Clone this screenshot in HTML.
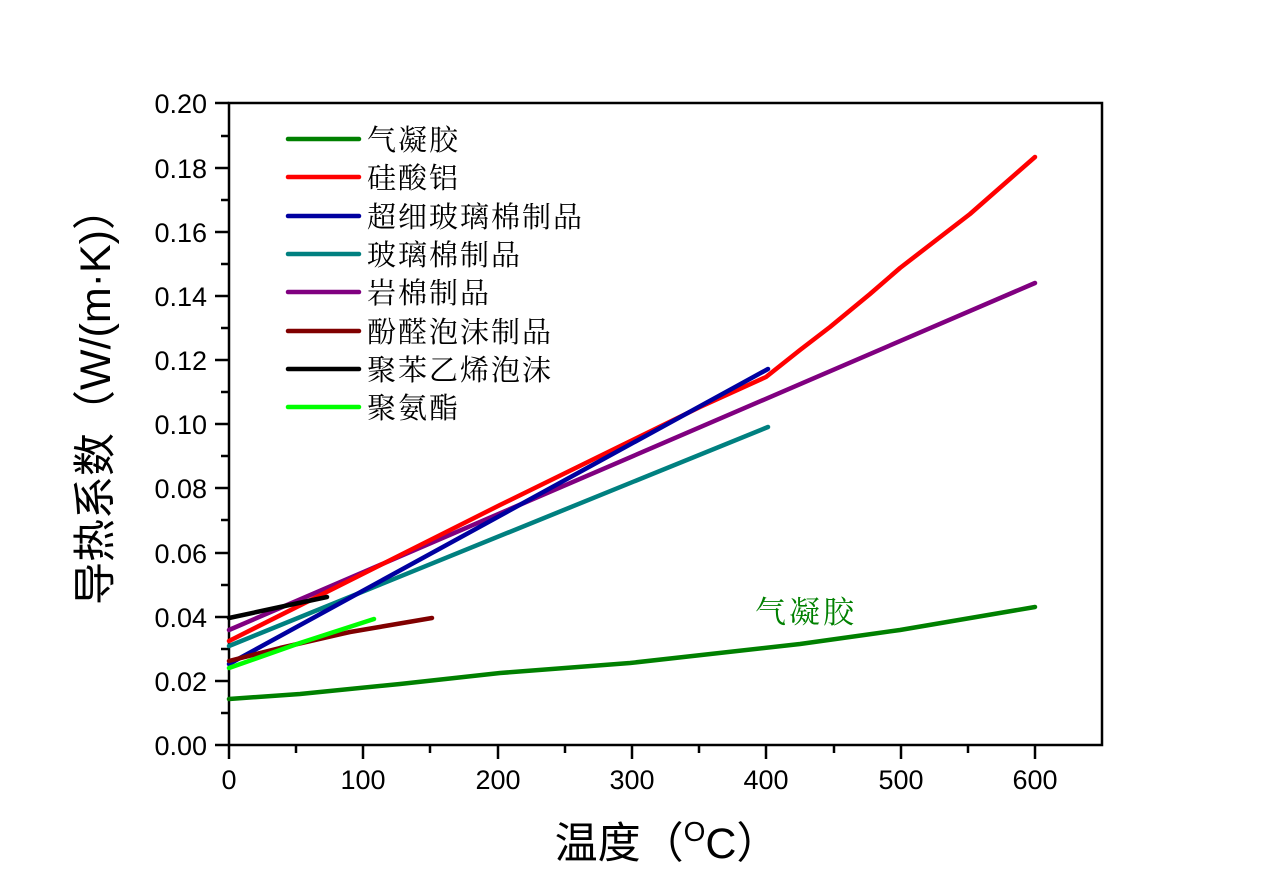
<!DOCTYPE html>
<html><head><meta charset="utf-8"><style>
body{margin:0;background:#fff;}
svg{display:block;}
</style></head><body>
<svg width="1280" height="893" xmlns="http://www.w3.org/2000/svg">
<rect width="1280" height="893" fill="#fff"/>
<g stroke="#000" stroke-width="2.5" fill="none">
<rect x="229" y="103" width="873" height="642"/>
</g>
<g stroke="#000" stroke-width="2.5">
<line x1="215" y1="745" x2="229" y2="745"/><line x1="215" y1="681" x2="229" y2="681"/>
<line x1="215" y1="617" x2="229" y2="617"/><line x1="215" y1="553" x2="229" y2="553"/>
<line x1="215" y1="488" x2="229" y2="488"/><line x1="215" y1="424" x2="229" y2="424"/>
<line x1="215" y1="360" x2="229" y2="360"/><line x1="215" y1="296" x2="229" y2="296"/>
<line x1="215" y1="232" x2="229" y2="232"/><line x1="215" y1="168" x2="229" y2="168"/>
<line x1="215" y1="103" x2="229" y2="103"/>
<line x1="221" y1="713" x2="229" y2="713"/><line x1="221" y1="649" x2="229" y2="649"/>
<line x1="221" y1="585" x2="229" y2="585"/><line x1="221" y1="520" x2="229" y2="520"/>
<line x1="221" y1="456" x2="229" y2="456"/><line x1="221" y1="392" x2="229" y2="392"/>
<line x1="221" y1="328" x2="229" y2="328"/><line x1="221" y1="264" x2="229" y2="264"/>
<line x1="221" y1="200" x2="229" y2="200"/><line x1="221" y1="136" x2="229" y2="136"/>
<line x1="229" y1="745" x2="229" y2="759"/><line x1="363" y1="745" x2="363" y2="759"/>
<line x1="498" y1="745" x2="498" y2="759"/><line x1="632" y1="745" x2="632" y2="759"/>
<line x1="766" y1="745" x2="766" y2="759"/><line x1="901" y1="745" x2="901" y2="759"/>
<line x1="1035" y1="745" x2="1035" y2="759"/>
<line x1="296" y1="745" x2="296" y2="753"/><line x1="430" y1="745" x2="430" y2="753"/>
<line x1="565" y1="745" x2="565" y2="753"/><line x1="699" y1="745" x2="699" y2="753"/>
<line x1="834" y1="745" x2="834" y2="753"/><line x1="968" y1="745" x2="968" y2="753"/>
</g>
<g font-family="Liberation Sans, sans-serif" font-size="27" fill="#000" text-anchor="end">
<text x="207" y="755">0.00</text><text x="207" y="691">0.02</text><text x="207" y="627">0.04</text>
<text x="207" y="563">0.06</text><text x="207" y="498">0.08</text><text x="207" y="434">0.10</text>
<text x="207" y="370">0.12</text><text x="207" y="306">0.14</text><text x="207" y="242">0.16</text>
<text x="207" y="178">0.18</text><text x="207" y="113">0.20</text>
</g>
<g font-family="Liberation Sans, sans-serif" font-size="27" fill="#000" text-anchor="middle">
<text x="229" y="789">0</text><text x="363" y="789">100</text><text x="498" y="789">200</text>
<text x="632" y="789">300</text><text x="766" y="789">400</text><text x="901" y="789">500</text>
<text x="1035" y="789">600</text>
</g>
<text x="667" y="858" text-anchor="middle" font-family="Liberation Sans, 'Noto Sans CJK SC', sans-serif" font-size="43">温度（<tspan font-size="28" dy="-17">O</tspan><tspan dy="17">C）</tspan></text>
<text transform="translate(110,396) rotate(-90)" text-anchor="middle" font-family="Liberation Sans, 'Noto Sans CJK SC', sans-serif" font-size="43">导热系数（W/(m·K)）</text>
<g fill="none" stroke-width="4.5" stroke-linecap="round" stroke-linejoin="round">
<polyline stroke="#008000" points="229,699 300,694 400,684 500,673 630,663 800,644 900,630 1035,607"/>
<polyline stroke="#800080" points="229,630 1035,283"/>
<polyline stroke="#008080" points="229,646 768,427"/>
<polyline stroke="#ff0000" points="229,641 500,505 700,407 766,377 800,350 830,327 870,294 900,268 970,214 1035,157"/>
<polyline stroke="#0000a0" points="229,664 768,369"/>
<polyline stroke="#800000" points="229,661 280,648 350,632 432,618"/>
<polyline stroke="#000000" points="229,618 280,607 327,597"/>
<polyline stroke="#00ff00" points="229,668 300,643 374,619"/>
</g>
<g stroke-width="4.5" stroke-linecap="round">
<line x1="288" y1="139" x2="359" y2="139" stroke="#008000"/>
<line x1="288" y1="177" x2="359" y2="177" stroke="#ff0000"/>
<line x1="288" y1="216" x2="359" y2="216" stroke="#0000a0"/>
<line x1="288" y1="254" x2="359" y2="254" stroke="#008080"/>
<line x1="288" y1="292" x2="359" y2="292" stroke="#800080"/>
<line x1="288" y1="331" x2="359" y2="331" stroke="#800000"/>
<line x1="288" y1="369" x2="359" y2="369" stroke="#000000"/>
<line x1="288" y1="407" x2="359" y2="407" stroke="#00ff00"/>
</g>
<g font-family="'Noto Serif CJK SC', serif" font-size="29" letter-spacing="2" fill="#000">
<text x="367" y="150">气凝胶</text>
<text x="367" y="188">硅酸铝</text>
<text x="367" y="227">超细玻璃棉制品</text>
<text x="367" y="265">玻璃棉制品</text>
<text x="367" y="303">岩棉制品</text>
<text x="367" y="342">酚醛泡沫制品</text>
<text x="367" y="380">聚苯乙烯泡沫</text>
<text x="367" y="418">聚氨酯</text>
</g>
<text x="755" y="623" font-family="'Noto Serif CJK SC', serif" font-size="31" letter-spacing="3" fill="#008000">气凝胶</text>
</svg>
</body></html>
